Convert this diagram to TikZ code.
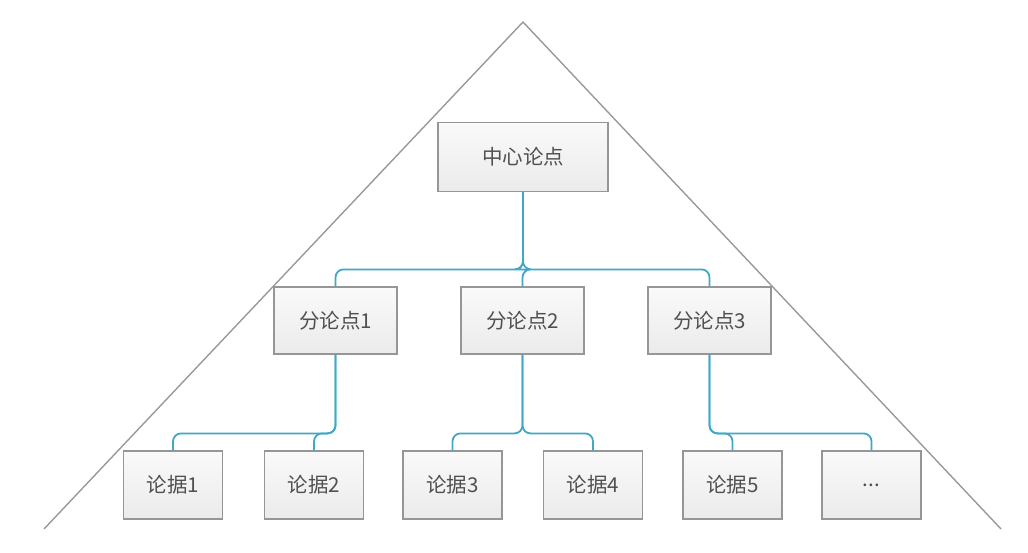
\documentclass[tikz,border=0pt]{standalone}
\usepackage{fontspec}
\newfontfamily\cjk{Noto Sans CJK SC}
\usepackage{tikz}
\usetikzlibrary{positioning,calc}
\definecolor{linkblue}{RGB}{64,168,198}
\definecolor{boxline}{RGB}{150,150,150}
\definecolor{boxtext}{RGB}{80,80,80}

\begin{document}
\begin{tikzpicture}[
x=1pt,y=-1pt,
box/.style={
  draw=boxline,
  line width=1.2pt,
  top color=gray!4,
  bottom color=gray!16,
  inner sep=0pt,
  text=boxtext,
  font=\cjk\fontsize{20.5}{22}\selectfont
},
topbox/.style={box,minimum width=170pt,minimum height=69pt},
midbox/.style={box,minimum width=123pt,minimum height=67pt},
leafbox/.style={box,minimum width=99pt,minimum height=68pt},
link/.style={
  draw=linkblue,
  line width=1.8pt,
  rounded corners=8pt
},
side/.style={draw=gray!80,line width=1.4pt}
]
\useasboundingbox (0,0) rectangle (1028,552);

% triangle
\coordinate (apex) at (523,22);
\coordinate (bl) at (44,529);
\coordinate (br) at (1001,529);
\draw[side] (bl) -- (apex) -- (br);

% central point
\node[topbox] (center) at (523,157) {中心论点};

% sub points
\node[midbox] (sub1) at (335.5,320.5) {分论点1};
\node[midbox] (sub2) at (522.5,320.5) {分论点2};
\node[midbox] (sub3) at (709.5,320.5) {分论点3};

% arguments
\node[leafbox] (arg1) at (173,485) {论据1};
\node[leafbox] (arg2) at (314,485) {论据2};
\node[leafbox] (arg3) at (452.5,485) {论据3};
\node[leafbox] (arg4) at (593,485) {论据4};
\node[leafbox] (arg5) at (732.5,485) {论据5};
\node[leafbox] (arg6) at (871.5,485) {...};

% links
\foreach \p/\c in {center/sub1,center/sub2,center/sub3,
  sub1/arg1,sub1/arg2,sub2/arg3,sub2/arg4,sub3/arg5,sub3/arg6}
  \draw[link] (\p.south) |- ([yshift=17pt]\c.north) -- (\c.north);
\end{tikzpicture}
\end{document}
